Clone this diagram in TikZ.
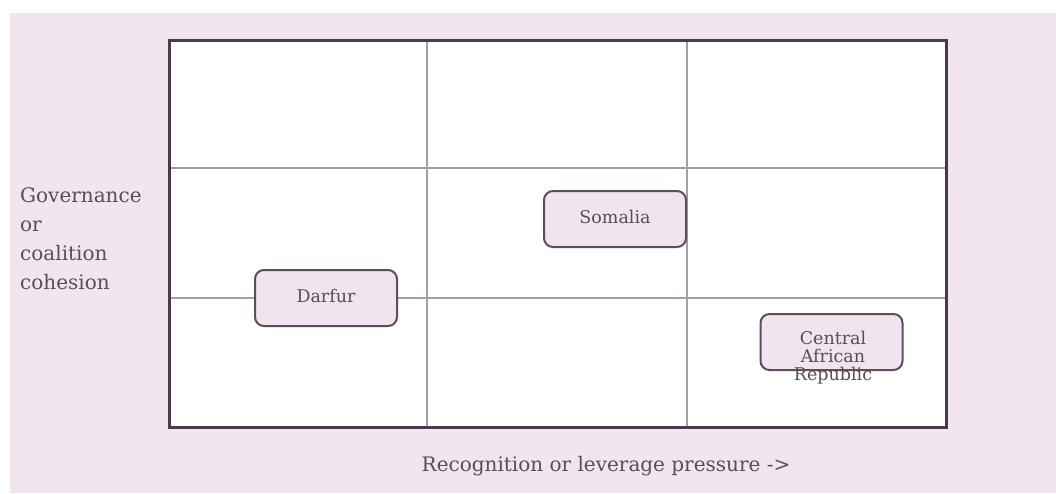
\documentclass[tikz,border=0pt]{standalone}
\usepackage{fontspec}
\setmainfont{DejaVu Serif}
\definecolor{bgpink}{HTML}{F1E6EF}
\definecolor{framec}{HTML}{4B3A49}
\definecolor{gridc}{HTML}{A59EA4}
\definecolor{boxfill}{HTML}{F2E4EF}
\definecolor{boxline}{HTML}{5E4D5C}
\definecolor{txt}{HTML}{555055}
\tikzset{
  axislabel/.style={text=txt, font=\fontsize{20}{29}\selectfont, inner sep=0pt},
  casebox/.style={draw=boxline, line width=2pt, fill=boxfill, rounded corners=9pt, minimum width=142pt, minimum height=56pt, inner sep=0pt},
  casetext/.style={text=txt, font=\fontsize{17.5}{18}\selectfont, align=center, inner sep=0pt},
  gridline/.style={draw=gridc, line width=1.3pt},
}
\begin{document}
\begin{tikzpicture}[x=1pt,y=-1pt]
\useasboundingbox (0,0) rectangle (1056,493);
\fill[bgpink] (10,13) rectangle (1056,493);
\fill[white] (169,40) rectangle (946,427);
% grid
\coordinate (v1t) at (427,40); \coordinate (v1b) at (427,427);
\coordinate (v2t) at (687,40); \coordinate (v2b) at (687,427);
\coordinate (h1l) at (169,168); \coordinate (h1r) at (946,168);
\coordinate (h2l) at (169,298); \coordinate (h2r) at (946,298);
\draw[gridline] (v1t) -- (v1b);
\draw[gridline] (v2t) -- (v2b);
\draw[gridline] (h1l) -- (h1r);
\draw[gridline] (h2l) -- (h2r);
\draw[draw=framec, line width=3pt] (169,40) rectangle (946,427);
% boxes
\node[casebox] (darfur) at (326,298) {};
\node[casetext, anchor=base] (darfurt) at (326,302) {Darfur};
\node[casebox] (somalia) at (615,219) {};
\node[casetext, anchor=base] (somaliat) at (615,223) {Somalia};
\node[casebox] (car) at (831.5,342) {};
\node[casetext, anchor=north] (cart) at (833,331) {Central\\African\\Republic};
% axis labels
\node[axislabel, anchor=north west, align=left] (ylab) at (20,187) {Governance\\or\\coalition\\cohesion};
\node[axislabel, anchor=base] (xlab) at (606,471) {Recognition or leverage pressure ->};
\end{tikzpicture}
\end{document}
